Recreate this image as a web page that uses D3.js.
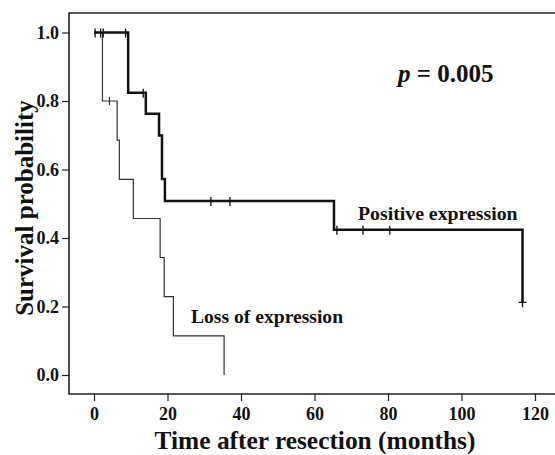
<html lang="en">
<head>
  <meta charset="UTF-8">
  <title>Survival</title>
  <style>
    body { margin: 0; background: #fff; }
    svg text { font-family: "Liberation Serif", "Times New Roman", serif; font-weight: bold; fill: #111; }
  </style>
</head>
<body>
  <div id="chart"></div>
  <script src="https://d3js.org/d3.v7.min.js"></script>
  <script>
    // positive expression curve (time in months, survival)
    const posTimes = [0, 9.3, 14.1, 17.7, 18.5, 19.3, 65.3, 116.6];
    const posSurv = [1, 0.824, 0.763, 0.699, 0.572, 0.508, 0.424, 0.212];
    const posCensor = [0.3, 1.8, 2.5, 8.6, 13.4, 31.8, 37.0, 66.1, 73.2, 80.5, 116.6];

    // loss of expression curve
    const lossTimes = [0, 2.3, 6.3, 6.9, 10.7, 18.0, 19.1, 21.6, 35.4];
    const lossSurv = [1, 0.8, 0.686, 0.571, 0.457, 0.343, 0.229, 0.114, 0];
    const lossCensor = [4.2];

    const xTicks = [0, 20, 40, 60, 80, 100, 120];
    const yTicks = [0, 0.2, 0.4, 0.6, 0.8, 1.0];

    const w = 555, h = 455;
    const padLeft = 69, padTop = 13, axisY = 394;

    const svg = d3.select("#chart").append("svg")
      .attr("width", w)
      .attr("height", h);

    const xScale = d3.scaleLinear().domain([0, 120]).range([94, 535]);
    const yScale = d3.scaleLinear().domain([0, 1]).range([375, 32.5]);

    // step value lookup for censor marks
    function survAt(times, surv, t) {
      let v = surv[0];
      times.forEach((tt, i) => { if (tt <= t) v = surv[i]; });
      return v;
    }

    //axes
    const xAxis = d3.axisBottom(xScale).tickValues(xTicks).tickSize(7).tickPadding(6);
    const yAxis = d3.axisLeft(yScale).tickValues(yTicks).tickSize(7).tickPadding(3).tickFormat(d3.format(".1f"));

    const gx = svg.append("g")
      .attr("transform", "translate(0," + axisY + ")")
      .call(xAxis);
    const gy = svg.append("g")
      .attr("transform", "translate(" + padLeft + ",0)")
      .call(yAxis);

    [gx, gy].forEach(g => {
      g.select(".domain").remove();
      g.selectAll(".tick line").attr("stroke", "#222").attr("stroke-width", 1.2);
      g.selectAll(".tick text").style("font-size", "18px").attr("fill", "#111");
    });
    gx.selectAll(".tick text").attr("dy", "0.72em");

    // frame lines: top, left, bottom
    svg.append("path")
      .attr("d", "M" + w + "," + padTop + "H" + padLeft + "V" + axisY + "H" + w)
      .attr("fill", "none")
      .attr("stroke", "#222")
      .attr("stroke-width", 1.6);

    const line = d3.line()
      .x(d => xScale(d[0]))
      .y(d => yScale(d[1]))
      .curve(d3.curveStepAfter);

    const lossData = lossTimes.map((t, i) => [t, lossSurv[i]]);
    const posData = posTimes.map((t, i) => [t, posSurv[i]]);

    svg.append("path")
      .datum(lossData)
      .attr("d", line)
      .attr("fill", "none")
      .attr("stroke", "#333")
      .attr("stroke-width", 1.2);

    svg.append("path")
      .datum(posData)
      .attr("d", line)
      .attr("fill", "none")
      .attr("stroke", "#111")
      .attr("stroke-width", 2.5);

    // censor marks
    svg.selectAll(".cl")
      .data(lossCensor)
      .enter()
      .append("line")
      .attr("x1", d => xScale(d)).attr("x2", d => xScale(d))
      .attr("y1", d => yScale(survAt(lossTimes, lossSurv, d)) - 4)
      .attr("y2", d => yScale(survAt(lossTimes, lossSurv, d)) + 4)
      .attr("stroke", "#333").attr("stroke-width", 1.2);

    svg.selectAll(".cp")
      .data(posCensor)
      .enter()
      .append("line")
      .attr("x1", d => xScale(d)).attr("x2", d => xScale(d))
      .attr("y1", d => yScale(survAt(posTimes, posSurv, d)) - 4)
      .attr("y2", d => yScale(survAt(posTimes, posSurv, d)) + 5)
      .attr("stroke", "#111").attr("stroke-width", 1.3);
    // small horizontal at the last censor
    svg.append("line")
      .attr("x1", xScale(116.6) - 4).attr("x2", xScale(116.6) + 4)
      .attr("y1", yScale(0.212)).attr("y2", yScale(0.212))
      .attr("stroke", "#111").attr("stroke-width", 1.3);

    // labels
    svg.append("text")
      .attr("x", 358).attr("y", 220)
      .style("font-size", "19.8px")
      .text("Positive expression");

    svg.append("text")
      .attr("x", 191).attr("y", 323)
      .style("font-size", "19.6px")
      .text("Loss of expression");

    const pText = svg.append("text")
      .attr("x", 398).attr("y", 82)
      .style("font-size", "25px");
    pText.append("tspan").style("font-style", "italic").text("p");
    pText.append("tspan").text(" = 0.005");

    //axis titles
    svg.append("text")
      .attr("text-anchor", "middle")
      .attr("x", 315).attr("y", 449)
      .style("font-size", "25.4px")
      .text("Time after resection (months)");

    svg.append("text")
      .attr("text-anchor", "middle")
      .attr("transform", "translate(33,208) rotate(-90)")
      .style("font-size", "25px")
      .text("Survival probability");
  </script>
</body>
</html>
